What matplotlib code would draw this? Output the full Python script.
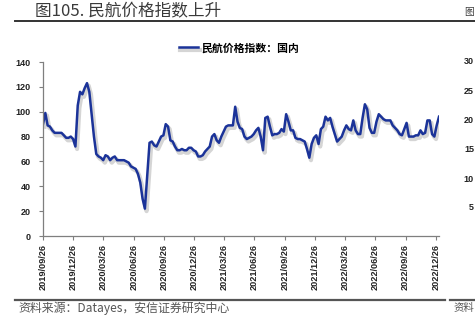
import matplotlib
matplotlib.use("Agg")
import matplotlib.pyplot as plt
import matplotlib.dates as mdates
import matplotlib.patheffects as pe
import numpy as np
import pandas as pd

plt.rcParams['font.family'] = ['Noto Sans CJK SC', 'DejaVu Sans']

# Weekly civil aviation domestic price index
start_date = "2019-09-26"
index_values = [
    90, 99, 89, 88, 85, 83, 83, 83, 83, 81,
    79, 79, 80, 78, 72, 105, 116, 114, 119, 123,
    116, 98, 80, 66, 64, 63, 61, 65, 64, 61,
    63, 64, 61, 61, 61, 61, 60, 59, 56, 55,
    54, 50, 43, 30, 22, 48, 75, 76, 73, 72,
    76, 80, 81, 90, 88, 77, 76, 72, 69, 69,
    70, 69, 69, 71, 71, 69, 68, 64, 64, 65,
    68, 70, 72, 80, 82, 77, 75, 80, 84, 88,
    89, 89, 89, 104, 92, 87, 86, 80, 78, 79,
    80, 82, 85, 87, 80, 69, 95, 96, 88, 81,
    82, 82, 83, 86, 84, 98, 92, 85, 85, 79,
    78, 78, 77, 76, 70, 63, 74, 79, 81, 74,
    86, 88, 96, 93, 95, 88, 82, 76, 78, 80,
    85, 89, 86, 85, 93, 85, 82, 82, 95, 106,
    102, 87, 83, 83, 92, 98, 96, 94, 93, 93,
    93, 89, 87, 85, 82, 81, 86, 91, 80, 80,
    80, 81, 81, 85, 82, 83, 93, 93, 82, 80,
    89, 96,
]
tick_dates = ["2019-09-26", "2019-12-26", "2020-03-26", "2020-06-26",
              "2020-09-26", "2020-12-26", "2021-03-26", "2021-06-26",
              "2021-09-26", "2021-12-26", "2022-03-26", "2022-06-26",
              "2022-09-26", "2022-12-26"]
y_ticks = [0, 20, 40, 60, 80, 100, 120, 140]
series_name = "民航价格指数：国内"
title_text = "图105. 民航价格指数上升"
source_text = "资料来源：Datayes，安信证券研究中心"

# fragments of the neighbouring panel visible at the page edge
side_ticks = ["30", "25", "20", "15", "10", "5"]
side_tick_rows = [62, 92, 121, 150, 179, 208]

dates = pd.date_range(start_date, periods=len(index_values), freq="7D")

W, H = 475, 331
fig = plt.figure(figsize=(W / 100, H / 100), dpi=100)
fig.patch.set_facecolor("white")

ax = fig.add_axes([43 / W, 1 - 236 / H, (439 - 43) / W, (236 - 62) / H])
line_color = "#1B3399"
ax.plot(dates, index_values, color=line_color, lw=1.8, solid_joinstyle="round",
        path_effects=[pe.SimpleLineShadow(offset=(1.2, -1.8), shadow_color="#888888",
                                          alpha=0.35, linewidth=3.0),
                      pe.Normal()],
        label=series_name)

ax.set_xlim(pd.Timestamp(start_date), dates[-1])
ax.set_ylim(0, 140)
ax.set_yticks(y_ticks)
ax.set_xticks(pd.to_datetime(tick_dates))
ax.xaxis.set_major_formatter(mdates.DateFormatter("%Y/%m/%d"))

for s in ["top", "right"]:
    ax.spines[s].set_visible(False)
for s in ["left", "bottom"]:
    ax.spines[s].set_color("#7f7f7f")
    ax.spines[s].set_linewidth(0.9)

ax.tick_params(axis="y", length=3, width=0.8, color="#7f7f7f", pad=6,
               labelsize=6.5, labelcolor="#222222")
ax.tick_params(axis="x", length=3, width=0.8, color="#7f7f7f", pad=3,
               labelsize=6.6, labelcolor="#222222", labelrotation=90)
for lab in ax.get_xticklabels() + ax.get_yticklabels():
    lab.set_fontweight("bold")
    lab.set_family(["Liberation Sans", "DejaVu Sans"])

leg = fig.legend(handles=ax.get_lines(), labels=[series_name],
                 loc="center", bbox_to_anchor=(239 / W, 1 - 48 / H),
                 frameon=False, handlelength=1.8, handletextpad=0.3,
                 prop={"size": 7.8, "weight": "bold"})

# heading and rules
fig.text(35 / W, 1 - 12 / H, title_text, fontsize=12, color="#3a3a3a",
         ha="left", va="center")
fig.add_artist(plt.Line2D([15 / W, 1.0], [1 - 21 / H] * 2, color="#333333", lw=1.4))
fig.add_artist(plt.Line2D([15 / W, 445 / W], [1 - 300 / H] * 2, color="#555555", lw=1.6))
fig.add_artist(plt.Line2D([450 / W, 1.0], [1 - 300 / H] * 2, color="#555555", lw=1.6))
fig.text(18 / W, 1 - 308 / H, source_text, fontsize=8.6, color="#555555",
         ha="left", va="center")

# neighbouring panel, cut by the page edge
fig.text(474 / W, 1 - 12 / H, "图", fontsize=7, color="#3a3a3a", ha="right", va="center")
for lbl, yp in zip(side_ticks, side_tick_rows):
    fig.text(474 / W, 1 - yp / H, lbl, fontsize=6.5,
             fontweight="bold", color="#222222", ha="right", va="center",
             family=["Liberation Sans", "DejaVu Sans"])
fig.text(474 / W, 1 - 308 / H, "资料", fontsize=7.5, color="#555555",
         ha="right", va="center")

fig.savefig("out.png", dpi=100)
